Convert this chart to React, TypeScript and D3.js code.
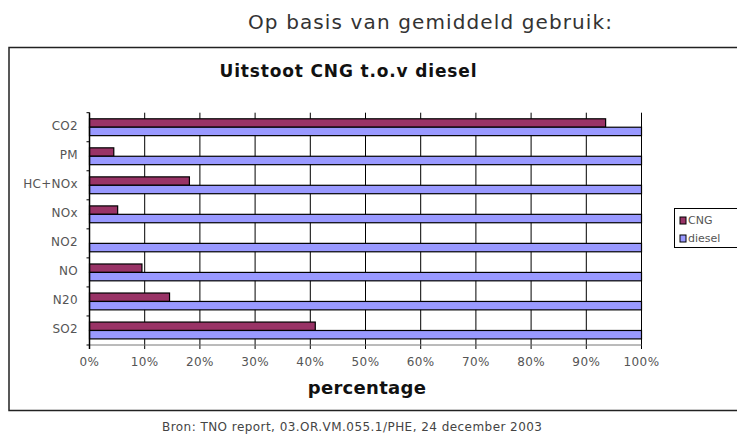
import React from "react";
import * as d3 from "d3";

const categories = ["CO2", "PM", "HC+NOx", "NOx", "NO2", "NO", "N20", "SO2"];
const cngValues = [93.5, 4.4, 18.1, 5.1, 0, 9.5, 14.5, 40.9];
const dieselValues = [100, 100, 100, 100, 100, 100, 100, 100];
const xTicks = [0, 10, 20, 30, 40, 50, 60, 70, 80, 90, 100];
const seriesNames = ["CNG", "diesel"];
const seriesColors = ["#993366", "#9999ff"];

const W = 737;
const H = 437;
const plot = { left: 89.5, right: 641.5, top: 112.7, bottom: 345 };
const font = "'DejaVu Sans', Verdana, sans-serif";

export default function App() {
  const x = d3.scaleLinear().domain([0, 100]).range([plot.left, plot.right]);
  const y = d3
    .scaleBand<string>()
    .domain(categories)
    .range([plot.top, plot.bottom])
    .padding(0);
  const bw = y.bandwidth();
  const barOff = bw * 0.21;
  const barH = bw * 0.29;

  return (
    <svg
      width={W}
      height={H}
      style={{ position: "absolute", left: 0, top: 0, background: "#fff" }}
      fontFamily={font}
    >
      {/* heading above the chart */}
      <text x={430} y={29} textAnchor="middle" fontSize={20} fill="#333" textLength={364} lengthAdjust="spacing">
        Op basis van gemiddeld gebruik:
      </text>

      {/* chart frame */}
      <rect x={9} y={47.5} width={740} height={363} fill="#fff" stroke="#222" strokeWidth={1.5} />

      <text x={348} y={77} textAnchor="middle" fontSize={17} fontWeight="bold" fill="#111" textLength={257} lengthAdjust="spacing">
        Uitstoot CNG t.o.v diesel
      </text>

      {/* vertical gridlines */}
      {xTicks.map((t) => (
        <line key={"g" + t} x1={x(t)} x2={x(t)} y1={plot.top} y2={plot.bottom + 4} stroke="#000" strokeWidth={1} />
      ))}

      {/* bars */}
      {categories.map((c, i) => (
        <g key={c}>
          {cngValues[i] > 0 && (
            <rect
              x={x(0)}
              y={(y(c) as number) + barOff}
              width={x(cngValues[i]) - x(0)}
              height={barH}
              fill={seriesColors[0]}
              stroke="#000"
              strokeWidth={1.2}
            />
          )}
          <rect
            x={x(0)}
            y={(y(c) as number) + barOff + barH}
            width={x(dieselValues[i]) - x(0)}
            height={barH}
            fill={seriesColors[1]}
            stroke="#000"
            strokeWidth={1.2}
          />
        </g>
      ))}

      {/* axes */}
      <line x1={plot.left} x2={plot.right} y1={plot.bottom} y2={plot.bottom} stroke="#777" strokeWidth={1} />
      <line x1={plot.left} x2={plot.left} y1={plot.top} y2={plot.bottom + 4} stroke="#000" strokeWidth={1.5} />
      {categories.concat([""]).map((c, i) => {
        const yy = plot.top + i * bw;
        return <line key={"yt" + i} x1={plot.left - 3} x2={plot.left} y1={yy} y2={yy} stroke="#000" />;
      })}

      {categories.map((c) => (
        <text
          key={"l" + c}
          x={78}
          y={(y(c) as number) + bw / 2 - 1}
          textAnchor="end"
          dominantBaseline="middle"
          fontSize={12}
          letterSpacing={0.3}
          fill="#555"
        >
          {c}
        </text>
      ))}

      {xTicks.map((t) => (
        <text key={"xt" + t} x={x(t)} y={366} textAnchor="middle" fontSize={12} letterSpacing={0.4} fill="#555">
          {t + "%"}
        </text>
      ))}

      <text x={367} y={394} textAnchor="middle" fontSize={18} fontWeight="bold" fill="#111" letterSpacing={0.3}>
        percentage
      </text>

      {/* legend */}
      <rect x={674.5} y={208.5} width={70} height={39} fill="#fff" stroke="#000" strokeWidth={1} />
      {seriesNames.map((s, i) => (
        <g key={s} transform={`translate(680, ${217 + i * 18})`}>
          <rect x={0} y={0} width={6} height={7} fill={seriesColors[i]} stroke="#000" strokeWidth={1} />
          <text x={8} y={4} dominantBaseline="middle" fontSize={11} fill="#555">
            {s}
          </text>
        </g>
      ))}

      {/* source */}
      <text x={352} y={431} textAnchor="middle" fontSize={12} fill="#444" textLength={380} lengthAdjust="spacing">
        Bron: TNO report, 03.OR.VM.055.1/PHE, 24 december 2003
      </text>
    </svg>
  );
}
